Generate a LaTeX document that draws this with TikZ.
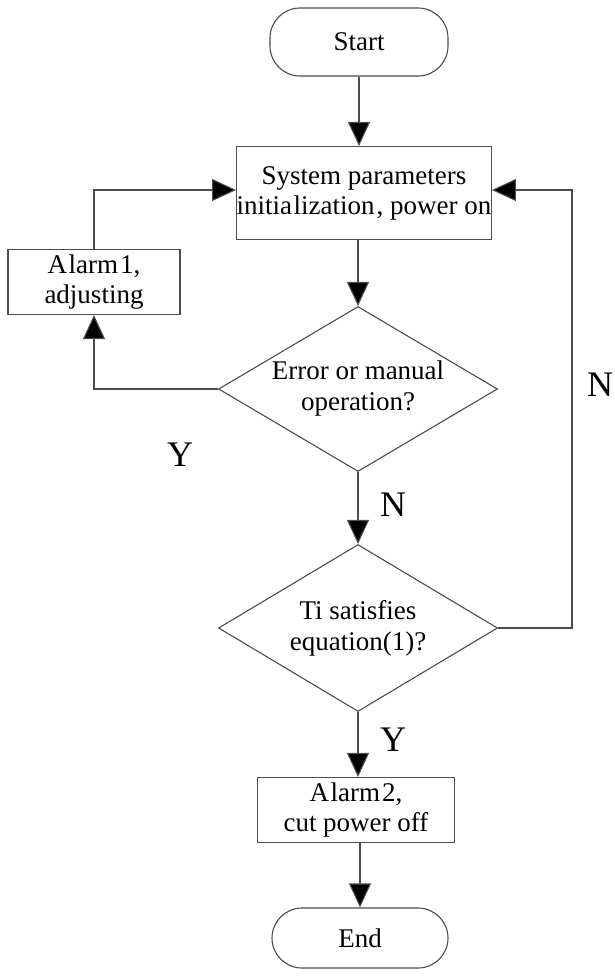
\documentclass[tikz,border=0pt]{standalone}
\usepackage{fontspec}
\setmainfont{Liberation Serif}
\usetikzlibrary{arrows.meta,shapes.geometric}
\begin{document}
\begin{tikzpicture}[x=1pt,y=-1pt,
  line/.style={draw=black!70, line width=1.1pt},
  arr/.style={line, -{Triangle[length=24pt,width=22pt,fill=black]}},
  box/.style={draw=black!70, line width=1.1pt, rectangle, inner sep=0pt, align=center, font=\fontsize{27}{30}\selectfont},
  term/.style={box, rounded corners=30pt},
  dec/.style={draw=black!70, line width=1.1pt, diamond, inner sep=0pt, align=center, font=\fontsize{27}{31}\selectfont},
  lab/.style={font=\fontsize{36}{40}\selectfont}]
\useasboundingbox (0,0) rectangle (614,977);
\node[term, minimum width=178pt, minimum height=68pt] (start) at (359,42) {Start};
\node[box, minimum width=254pt, minimum height=93pt] (init) at (364,193) {System parameters\\initia\kern1.5pt lization\kern2pt, power on};
\node[box, minimum width=172pt, minimum height=65pt] (al1) at (94,282) {A\kern1.5pt larm\kern2pt 1,\\adjusting};
\node[dec, minimum width=279pt, minimum height=165pt, shape aspect=1.69] (d1) at (358,389) {Error or manual\\operation?};
\node[dec, minimum width=279pt, minimum height=167pt, shape aspect=1.67] (d2) at (358,628) {Ti satisfies\\equation(1)?};
\node[box, minimum width=197pt, minimum height=65pt] (al2) at (356,810) {A\kern1.5pt larm\kern2pt 2,\\cut power off};
\node[term, minimum width=176pt, minimum height=60pt] (end) at (360,938) {End};
\coordinate (r1) at (572,628);
\coordinate (r2) at (572,190);
\coordinate (l1) at (94,389);
\coordinate (l2) at (94,190);
\draw[arr] (start.south) -- (start.south |- init.north);
\draw[arr] (init.south -| d1.north) -- (d1.north);
\draw[arr] (d1.south) -- (d2.north);
\draw[arr] (d2.south) -- (d2.south |- al2.north);
\draw[arr] (al2.south -| end.north) -- (end.north);
\draw[arr] (d2.east) -- (r1) -- (r2) -- (r2 -| init.east);
\draw[arr] (d1.west) -- (l1) -- (al1.south);
\draw[arr] (al1.north) -- (l2) -- (l2 -| init.west);
\node[lab] (ly1) at (180,455) {Y};
\node[lab] (ln1) at (600,385) {N};
\node[lab] (ln2) at (393,505) {N};
\node[lab] (ly2) at (393,740) {Y};
\end{tikzpicture}
\end{document}
